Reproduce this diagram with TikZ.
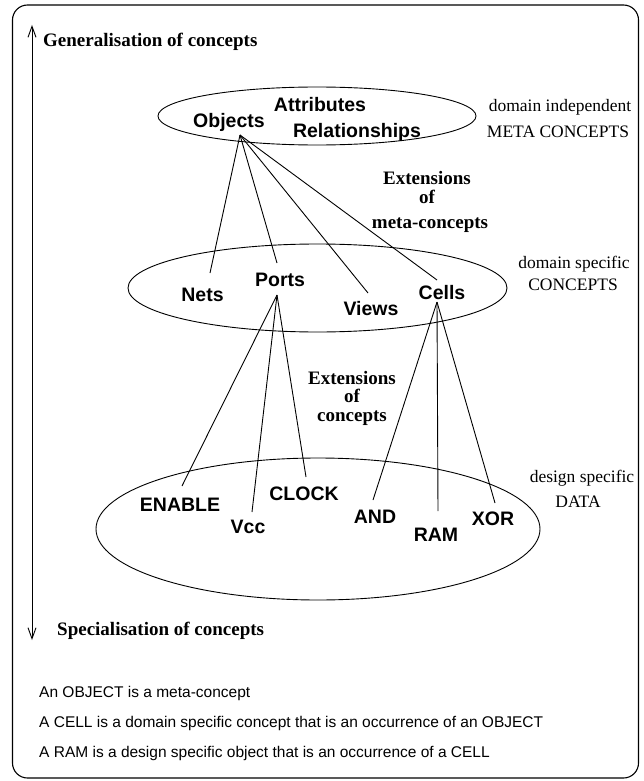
\documentclass[tikz,border=0pt]{standalone}
\usepackage{fontspec}
\setmainfont{Liberation Serif}
\setsansfont{Liberation Sans}
\usetikzlibrary{arrows.meta}

\tikzset{
  concept/.style={font=\sffamily\bfseries\fontsize{19.5}{22}\selectfont, inner sep=0pt, anchor=base},
  heading/.style={font=\bfseries\fontsize{19}{21}\selectfont, inner sep=0pt, anchor=base},
  levelnote/.style={font=\fontsize{17.5}{20}\selectfont, inner sep=0pt, anchor=base},
  remark/.style={font=\sffamily\fontsize{15.5}{18}\selectfont, inner sep=0pt, anchor=base west},
  link/.style={draw, line width=0.9pt},
  level/.style={draw, line width=0.9pt},
  axis/.style={draw, line width=0.9pt, {Straight Barb[length=11pt,width=8pt]}-{Straight Barb[length=11pt,width=8pt]}}
}

\begin{document}
\begin{tikzpicture}[x=1pt, y=-1pt]
\useasboundingbox (0,0) rectangle (643,781);

% outer frame
\draw[line width=1.1pt, rounded corners=15pt] (12.5,5) rectangle (638.5,778);

% generalisation / specialisation axis
\coordinate (axtop) at (32,25);
\coordinate (axbot) at (32,640);
\draw[axis] (axbot) -- (axtop);
\node[heading, anchor=base west] (gen) at (43,47) {Generalisation of concepts};
\node[heading, anchor=base west] (spec) at (57,635) {Specialisation of concepts};

% the three levels
\draw[level] (317,116) ellipse [x radius=159, y radius=29];
\draw[level] (317.5,288) ellipse [x radius=189.5, y radius=44];
\draw[level] (318,529) ellipse [x radius=222, y radius=71];

% meta concepts
\node[concept] (obj) at (229,128) {Objects};
\node[concept] (attr) at (320,112) {Attributes};
\node[concept] (rel) at (357,137) {Relationships};

% domain concepts
\node[concept] (nets) at (202.5,301) {Nets};
\node[concept] (ports) at (280,286) {Ports};
\node[concept] (views) at (371,315) {Views};
\node[concept] (cells) at (442,299) {Cells};

% design data
\node[concept] (enable) at (180,511) {ENABLE};
\node[concept] (vcc) at (248,533) {Vcc};
\node[concept] (clock) at (304,500) {CLOCK};
\node[concept] (and) at (375,523) {AND};
\node[concept] (ram) at (436,541) {RAM};
\node[concept] (xor) at (493,525.5) {XOR};

% level notes
\node[levelnote] (n1a) at (560,111) {domain independent};
\node[levelnote] (n1b) at (558,137) {META CONCEPTS};
\node[levelnote] (n2a) at (574,268) {domain specific};
\node[levelnote] (n2b) at (573,290) {CONCEPTS};
\node[levelnote] (n3a) at (582,482) {design specific};
\node[levelnote] (n3b) at (578,507) {DATA};

% extension labels
\node[heading] (ext1a) at (427,184) {Extensions};
\node[heading] (ext1b) at (427,203) {of};
\node[heading] (ext1c) at (430,228) {meta-concepts};
\node[heading] (ext2a) at (352,384) {Extensions};
\node[heading] (ext2b) at (352,402) {of};
\node[heading] (ext2c) at (352,421) {concepts};

% connector ends
\coordinate (objhub) at (240,135);
\coordinate (portshub) at (277,295);
\coordinate (cellshub) at (437,302);
\coordinate (netsend) at (210,273);
\coordinate (portsend) at (277,263);
\coordinate (viewsend) at (368,293);
\coordinate (cellsend) at (437,280);
\coordinate (enableend) at (182,486);
\coordinate (vccend) at (252,512);
\coordinate (clockend) at (306,477);
\coordinate (andend) at (373,500);
\coordinate (ramend) at (438,511);
\coordinate (xorend) at (495,503);

% objects specialised into domain concepts
\draw[link] (objhub) -- (netsend);
\draw[link] (objhub) -- (portsend);
\draw[link] (objhub) -- (viewsend);
\draw[link] (objhub) -- (cellsend);

% ports and cells specialised into design data
\draw[link] (portshub) -- (enableend);
\draw[link] (portshub) -- (vccend);
\draw[link] (portshub) -- (clockend);
\draw[link] (cellshub) -- (andend);
\draw[link] (cellshub) -- (ramend);
\draw[link] (cellshub) -- (xorend);

% definitions
\node[remark] (d1) at (39,697) {An OBJECT is a meta-concept};
\node[remark] (d2) at (39,727) {A CELL is a domain specific concept that is an occurrence of an OBJECT};
\node[remark] (d3) at (39,757) {A RAM is a design specific object that is an occurrence of a CELL};
\end{tikzpicture}
\end{document}
